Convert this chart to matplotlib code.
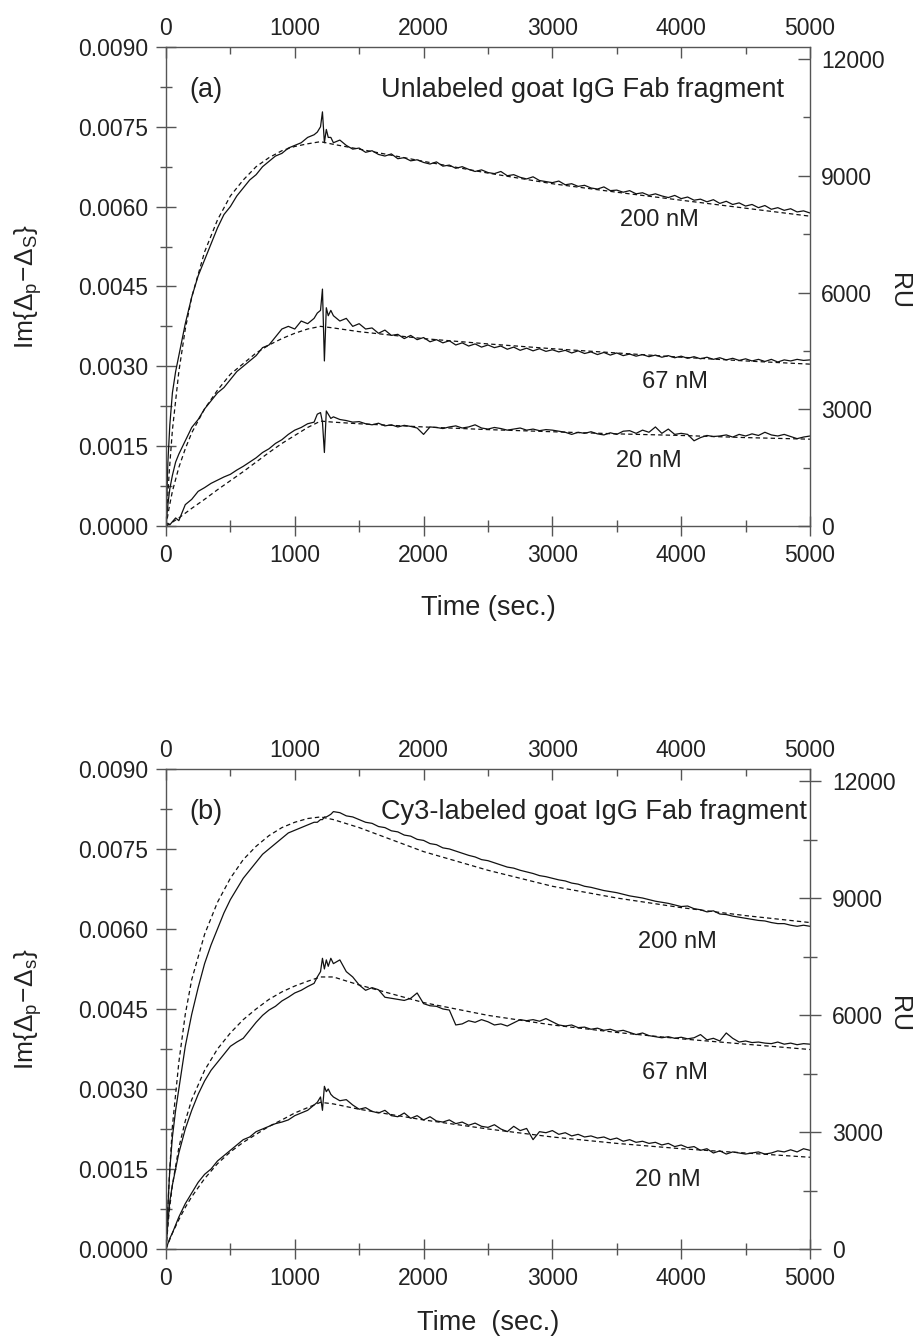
import matplotlib
matplotlib.use("Agg")
import matplotlib.pyplot as plt
from matplotlib.ticker import MultipleLocator, FormatStrFormatter
import numpy as np

plt.rcParams['font.family'] = ['Liberation Sans', 'DejaVu Sans']
plt.rcParams['mathtext.fontset'] = 'custom'
plt.rcParams['mathtext.rm'] = 'Liberation Sans'
plt.rcParams['mathtext.it'] = 'Liberation Sans:italic'

# ---------------- data (values in units of 1e-3 of Im{Δp-Δs}) ----------------
T_SOLID = [0, 15, 30, 50, 75, 100] + list(range(150, 1151, 50)) + \
          [1175, 1200, 1215, 1230, 1245, 1260, 1280] + list(range(1300, 5001, 50))
T_FIT = [0, 25, 50, 100, 150, 200, 300, 400, 500, 600, 700, 800, 900, 1000,
         1100, 1200, 1300, 1500, 2000, 2500, 3000, 3500, 4000, 4500, 5000]

# panel (a) unlabeled Fab
a200 = [0, 1.2, 1.9, 2.5, 2.9, 3.2,
        3.8, 4.3, 4.7, 5.0, 5.3, 5.6, 5.85, 6.0, 6.2, 6.35, 6.5, 6.6, 6.75, 6.85, 6.95,
        7.0, 7.1, 7.15, 7.2, 7.3, 7.35,
        7.4, 7.5, 7.78, 7.2, 7.45, 7.3, 7.3,
        7.20, 7.25, 7.15, 7.08, 7.10, 7.02, 7.05, 6.98, 6.95, 6.99,
        6.90, 6.92, 6.86, 6.88, 6.83, 6.80, 6.84, 6.76, 6.78, 6.72,
        6.75, 6.70, 6.66, 6.69, 6.64, 6.62, 6.66, 6.58, 6.60, 6.55,
        6.52, 6.56, 6.49, 6.47, 6.45, 6.48, 6.41, 6.43, 6.38, 6.40,
        6.35, 6.33, 6.37, 6.30, 6.31, 6.27, 6.30, 6.24, 6.26, 6.21,
        6.24, 6.20, 6.17, 6.21, 6.15, 6.18, 6.12, 6.14, 6.09, 6.13,
        6.06, 6.10, 6.04, 6.07, 6.01, 6.04, 5.98, 6.02, 5.95, 5.98,
        5.93, 5.96, 5.90, 5.92, 5.88]
a67 = [0, 0.4, 0.7, 0.95, 1.2, 1.35,
       1.6, 1.85, 2.0, 2.2, 2.35, 2.5, 2.6, 2.75, 2.9, 3.0, 3.1, 3.2, 3.35, 3.4, 3.55,
       3.7, 3.75, 3.7, 3.85, 3.8, 3.9,
       4.0, 4.05, 4.45, 3.1, 4.1, 3.95, 4.05,
       3.95, 3.85, 3.90, 3.75, 3.80, 3.70, 3.72, 3.62, 3.68, 3.58,
       3.60, 3.52, 3.58, 3.50, 3.54, 3.46, 3.50, 3.44, 3.48, 3.40,
       3.44, 3.38, 3.42, 3.36, 3.40, 3.35, 3.38, 3.32, 3.36, 3.30,
       3.34, 3.29, 3.33, 3.28, 3.31, 3.27, 3.30, 3.25, 3.29, 3.24,
       3.27, 3.22, 3.26, 3.21, 3.25, 3.20, 3.23, 3.19, 3.22, 3.18,
       3.21, 3.17, 3.20, 3.16, 3.19, 3.15, 3.18, 3.14, 3.17, 3.13,
       3.16, 3.12, 3.15, 3.11, 3.14, 3.10, 3.13, 3.09, 3.13, 3.08,
       3.12, 3.10, 3.13, 3.11, 3.12]
a20 = [0, 0.05, 0.02, 0.08, 0.15, 0.10,
       0.40, 0.50, 0.65, 0.72, 0.80, 0.86, 0.92, 0.97, 1.05, 1.12, 1.20, 1.28, 1.38, 1.45, 1.55,
       1.62, 1.72, 1.80, 1.85, 1.92, 1.95,
       2.10, 2.13, 1.95, 1.38, 2.16, 2.10, 2.02,
       2.05, 2.00, 1.98, 1.95, 1.96, 1.92, 1.90, 1.93, 1.88, 1.90,
       1.86, 1.89, 1.87, 1.84, 1.72, 1.86, 1.85, 1.83, 1.86, 1.88,
       1.84, 1.86, 1.90, 1.84, 1.82, 1.85, 1.83, 1.80, 1.82, 1.84,
       1.80, 1.82, 1.79, 1.81, 1.80, 1.78, 1.76, 1.72, 1.76, 1.74,
       1.77, 1.73, 1.71, 1.75, 1.72, 1.78, 1.79, 1.74, 1.80, 1.76,
       1.86, 1.74, 1.82, 1.72, 1.74, 1.72, 1.60, 1.66, 1.70, 1.68,
       1.69, 1.71, 1.67, 1.72, 1.69, 1.73, 1.70, 1.76, 1.71, 1.69,
       1.72, 1.68, 1.64, 1.67, 1.69]
a200_fit = [0, 1.0, 1.8, 2.9, 3.7, 4.3, 5.15, 5.75, 6.2, 6.5, 6.75, 6.92, 7.05, 7.13,
            7.18, 7.22, 7.17, 7.08, 6.85, 6.63, 6.43, 6.27, 6.12, 5.97, 5.82]
a67_fit = [0, 0.35, 0.65, 1.1, 1.45, 1.75, 2.2, 2.55, 2.85, 3.05, 3.25, 3.4, 3.52, 3.62,
           3.7, 3.75, 3.72, 3.65, 3.52, 3.42, 3.33, 3.25, 3.17, 3.10, 3.04]
a20_fit = [0, 0.03, 0.07, 0.15, 0.24, 0.33, 0.5, 0.68, 0.85, 1.02, 1.2, 1.38, 1.55, 1.7,
           1.85, 1.97, 1.95, 1.92, 1.86, 1.81, 1.77, 1.73, 1.70, 1.66, 1.63]

# panel (b) Cy3-labeled Fab
b200 = [0, 0.8, 1.5, 2.1, 2.6, 3.0,
        3.8, 4.4, 4.9, 5.35, 5.7, 6.0, 6.3, 6.55, 6.75, 6.95, 7.1, 7.25, 7.4, 7.5, 7.6,
        7.7, 7.8, 7.85, 7.9, 7.95, 8.0,
        8.0, 8.05, 8.05, 8.1, 8.1, 8.12, 8.15,
        8.20, 8.18, 8.12, 8.10, 8.05, 8.00, 7.98, 7.92, 7.90, 7.84,
        7.82, 7.76, 7.74, 7.68, 7.66, 7.60, 7.58, 7.52, 7.50, 7.46,
        7.42, 7.38, 7.35, 7.30, 7.28, 7.24, 7.20, 7.16, 7.14, 7.10,
        7.07, 7.04, 7.00, 6.98, 6.95, 6.92, 6.90, 6.86, 6.84, 6.80,
        6.78, 6.75, 6.72, 6.70, 6.68, 6.65, 6.62, 6.60, 6.58, 6.55,
        6.52, 6.50, 6.48, 6.45, 6.42, 6.43, 6.38, 6.36, 6.32, 6.34,
        6.28, 6.27, 6.24, 6.22, 6.20, 6.18, 6.16, 6.15, 6.12, 6.10,
        6.10, 6.07, 6.05, 6.07, 6.05]
b67 = [0, 0.5, 0.9, 1.2, 1.5, 1.8,
       2.25, 2.6, 2.9, 3.15, 3.35, 3.5, 3.65, 3.8, 3.88, 3.95, 4.1, 4.25, 4.38, 4.48, 4.55,
       4.65, 4.72, 4.8, 4.85, 4.92, 4.98,
       5.1, 5.2, 5.45, 5.25, 5.42, 5.3, 5.45,
       5.35, 5.42, 5.20, 5.10, 4.95, 4.85, 4.90, 4.86, 4.72, 4.70,
       4.68, 4.66, 4.70, 4.80, 4.60, 4.56, 4.55, 4.50, 4.48, 4.20,
       4.22, 4.28, 4.25, 4.30, 4.26, 4.20, 4.22, 4.18, 4.24, 4.30,
       4.28, 4.30, 4.27, 4.32, 4.26, 4.20, 4.18, 4.20, 4.15, 4.16,
       4.12, 4.14, 4.10, 4.12, 4.08, 4.10, 4.06, 4.02, 4.05, 4.00,
       3.98, 3.96, 3.98, 3.95, 3.97, 3.94, 3.96, 4.02, 3.92, 3.95,
       3.90, 4.05, 3.95, 3.88, 3.90, 3.87, 3.88, 3.86, 3.85, 3.88,
       3.84, 3.86, 3.83, 3.85, 3.84]
b20 = [0, 0.1, 0.2, 0.3, 0.45, 0.6,
       0.85, 1.05, 1.25, 1.4, 1.5, 1.65, 1.75, 1.85, 1.95, 2.05, 2.1, 2.2, 2.25, 2.3, 2.35,
       2.38, 2.42, 2.5, 2.55, 2.6, 2.7,
       2.75, 2.85, 2.6, 3.05, 2.95, 3.0, 2.9,
       2.85, 2.78, 2.80, 2.70, 2.62, 2.65, 2.58, 2.55, 2.60, 2.50,
       2.48, 2.55, 2.45, 2.50, 2.42, 2.48, 2.40, 2.38, 2.42, 2.35,
       2.38, 2.32, 2.36, 2.30, 2.28, 2.33, 2.25, 2.20, 2.30, 2.22,
       2.26, 2.05, 2.20, 2.18, 2.22, 2.15, 2.18, 2.12, 2.15, 2.10,
       2.12, 2.08, 2.10, 2.05, 2.08, 2.02, 2.05, 2.00, 2.02, 1.98,
       2.00, 1.95, 1.98, 1.92, 1.95, 1.90, 1.92, 1.85, 1.88, 1.80,
       1.84, 1.78, 1.82, 1.80, 1.78, 1.80, 1.82, 1.78, 1.80, 1.84,
       1.82, 1.86, 1.82, 1.88, 1.85]
b200_fit = [0, 1.3, 2.3, 3.5, 4.4, 5.05, 5.9, 6.5, 6.95, 7.3, 7.55, 7.75, 7.9, 8.0,
            8.07, 8.1, 8.05, 7.9, 7.45, 7.1, 6.8, 6.58, 6.4, 6.25, 6.12]
b67_fit = [0, 0.7, 1.2, 1.9, 2.4, 2.8, 3.35, 3.75, 4.05, 4.3, 4.5, 4.68, 4.82, 4.93,
           5.02, 5.1, 5.1, 4.95, 4.62, 4.38, 4.2, 4.06, 3.94, 3.84, 3.74]
b20_fit = [0, 0.15, 0.3, 0.55, 0.78, 0.98, 1.32, 1.6, 1.82, 2.0, 2.15, 2.3, 2.42, 2.55,
           2.65, 2.75, 2.72, 2.62, 2.42, 2.25, 2.1, 1.98, 1.88, 1.8, 1.72]

CONC_LABELS = ['200 nM', '67 nM', '20 nM']
LABEL_T_A = [3830, 3950, 3750]
LABEL_Y_A = [5.75, 2.70, 1.22]
LABEL_T_B = [3970, 3950, 3900]
LABEL_Y_B = [5.75, 3.30, 1.30]

RU_PER_IM = 1.368e6  # RU per unit Im
SCALE = 1e-3

for arr in (a200, a67, a20, b200, b67, b20):
    assert len(arr) == len(T_SOLID), len(arr)

# ---------------- figure ----------------
fig = plt.figure(figsize=(9.22, 13.41), dpi=100)
spine_c = '#555555'
line_c = '#111111'
txt_c = '#222222'

panels = [
    dict(rect=[0.180, 0.6078, 0.6985, 0.3572], solid=[a200, a67, a20],
         fits=[a200_fit, a67_fit, a20_fit], tag='(a)', title='Unlabeled goat IgG Fab fragment',
         lt=LABEL_T_A, ly=LABEL_Y_A, sub='S', xlabel='Time (sec.)', rdir='in', xpad=20),
    dict(rect=[0.180, 0.0686, 0.6985, 0.358], solid=[b200, b67, b20],
         fits=[b200_fit, b67_fit, b20_fit], tag='(b)', title='Cy3-labeled goat IgG Fab fragment',
         lt=LABEL_T_B, ly=LABEL_Y_B, sub='s', xlabel='Time  (sec.)', rdir='inout', xpad=14),
]

for p in panels:
    ax = fig.add_axes(p['rect'])
    for s, f in zip(p['solid'], p['fits']):
        ax.plot(T_SOLID, np.array(s) * SCALE, color=line_c, lw=0.9)
        ax.plot(T_FIT, np.array(f) * SCALE, color=line_c, lw=0.9, ls=(0, (3.5, 2.5)))
    ax.set_xlim(0, 5000)
    ax.set_ylim(0, 0.009)
    for sp in ax.spines.values():
        sp.set_color(spine_c)
        sp.set_linewidth(1.0)
    ax.xaxis.set_major_locator(MultipleLocator(1000))
    ax.xaxis.set_minor_locator(MultipleLocator(500))
    ax.yaxis.set_major_locator(MultipleLocator(0.0015))
    ax.yaxis.set_minor_locator(MultipleLocator(0.00075))
    ax.yaxis.set_major_formatter(FormatStrFormatter('%.4f'))
    ax.tick_params(axis='both', which='major', direction='inout', length=14, width=1.0,
                   color=spine_c, labelsize=16.5, labelcolor=txt_c)
    ax.tick_params(axis='both', which='minor', direction='inout', length=9, width=1.0,
                   color=spine_c)
    ax.tick_params(axis='x', which='major', pad=6)
    ax.tick_params(axis='y', which='major', pad=6)

    # top time axis
    top = ax.twiny()
    top.set_xlim(0, 5000)
    top.xaxis.set_major_locator(MultipleLocator(1000))
    top.xaxis.set_minor_locator(MultipleLocator(500))
    top.tick_params(axis='x', which='major', direction='in', length=8, width=1.0,
                    color=spine_c, labelsize=16.5, labelcolor=txt_c, pad=5)
    top.tick_params(axis='x', which='minor', direction='in', length=5, width=1.0,
                    color=spine_c)
    top.yaxis.set_visible(False)
    for sp in top.spines.values():
        sp.set_visible(False)

    # right RU axis
    right = ax.twinx()
    right.set_ylim(0, 0.009 * RU_PER_IM)
    right.yaxis.set_major_locator(MultipleLocator(3000))
    right.yaxis.set_minor_locator(MultipleLocator(1500))
    rlen = 9 if p['rdir'] == 'in' else 16
    right.tick_params(axis='y', which='major', direction=p['rdir'], length=rlen, width=1.0,
                      color=spine_c, labelsize=16.5, labelcolor=txt_c, pad=8)
    right.tick_params(axis='y', which='minor', direction=p['rdir'], length=rlen * 0.6,
                      width=1.0, color=spine_c)
    right.xaxis.set_visible(False)
    for sp in right.spines.values():
        sp.set_visible(False)

    ax.text(1.139, 0.49, 'RU', transform=ax.transAxes, fontsize=18, rotation=270,
            color=txt_c, va='center', ha='center')

    ax.set_xlabel(p['xlabel'], fontsize=19.5, labelpad=p['xpad'], color=txt_c)
    ax.set_ylabel(r'$\mathrm{Im}\{\Delta_{\mathrm{p}}\!-\!\Delta_{\mathrm{%s}}\}$' % p['sub'],
                  fontsize=19, labelpad=24, color=txt_c)

    ax.text(180, 0.0082, p['tag'], fontsize=19.5, va='center', ha='left', color=txt_c)
    ax.text(1670, 0.0082, p['title'], fontsize=19.5, va='center', ha='left', color=txt_c)
    for lab, t, y in zip(CONC_LABELS, p['lt'], p['ly']):
        ax.text(t, y * SCALE, lab, fontsize=17, ha='center', va='center', color=txt_c)

fig.savefig('out.png', dpi=100)
